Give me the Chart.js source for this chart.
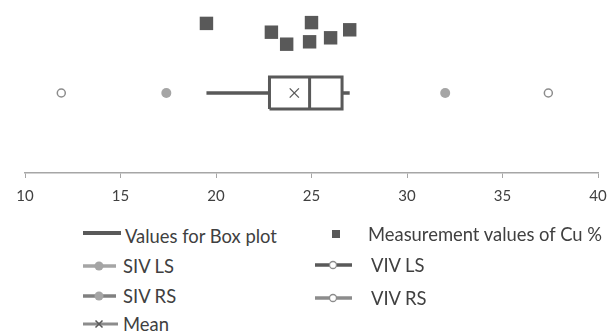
<!DOCTYPE html>
<html>
<head>
<meta charset="utf-8">
<script src="https://cdn.jsdelivr.net/npm/chart.js@4/dist/chart.umd.min.js"></script>
<style>
  html, body { margin: 0; padding: 0; background: #ffffff; }
  #wrap { position: relative; width: 611px; height: 334px; overflow: hidden; font-family: Lato, "Open Sans", sans-serif; color: #404040; }
  #plot { position: absolute; left: 0; top: 0; width: 611px; height: 224px; }
  .lg { position: absolute; font-size: 18.4px; line-height: 22px; white-space: nowrap; }
  .sym { position: absolute; }
</style>
</head>
<body>
<div id="wrap">
  <div id="plot"><canvas id="chart"></canvas></div>

  <!-- legend, left column -->
  <svg class="sym" style="left:82px;top:228px" width="40" height="12"><line x1="1" y1="5" x2="39" y2="5" stroke="#595959" stroke-width="4"/></svg>
  <div class="lg" style="left:125px;top:225px">Values for Box plot</div>

  <svg class="sym" style="left:82px;top:259px" width="36" height="14"><line x1="1" y1="7" x2="34" y2="7" stroke="#a5a5a5" stroke-width="3.5"/><circle cx="17" cy="7" r="4.5" fill="#a5a5a5"/></svg>
  <div class="lg" style="left:123px;top:255px">SIV LS</div>

  <svg class="sym" style="left:82px;top:289px" width="36" height="14"><line x1="1" y1="7" x2="34" y2="7" stroke="#808080" stroke-width="3.5"/><circle cx="17" cy="7" r="4.5" fill="#a5a5a5"/></svg>
  <div class="lg" style="left:123px;top:285px">SIV RS</div>

  <svg class="sym" style="left:82px;top:317px" width="38" height="14"><line x1="1" y1="7" x2="36" y2="7" stroke="#8c8c8c" stroke-width="3"/><path d="M13.5 3.5 L20.5 10.5 M20.5 3.5 L13.5 10.5" stroke="#595959" stroke-width="1.5"/></svg>
  <div class="lg" style="left:123px;top:313px">Mean</div>

  <!-- legend, right column -->
  <svg class="sym" style="left:331px;top:229px" width="10" height="10"><rect x="1" y="1" width="8" height="8" fill="#595959"/></svg>
  <div class="lg" style="left:368px;top:223px">Measurement values of Cu %</div>

  <svg class="sym" style="left:314px;top:258px" width="40" height="14"><line x1="1" y1="7" x2="38" y2="7" stroke="#595959" stroke-width="3.5"/><circle cx="19" cy="7" r="3.5" fill="#ffffff" stroke="#8c8c8c" stroke-width="1.3"/></svg>
  <div class="lg" style="left:371px;top:254px">VIV LS</div>

  <svg class="sym" style="left:314px;top:291px" width="40" height="14"><line x1="1" y1="7" x2="38" y2="7" stroke="#8c8c8c" stroke-width="3.5"/><circle cx="19" cy="7" r="3.5" fill="#ffffff" stroke="#8c8c8c" stroke-width="1.3"/></svg>
  <div class="lg" style="left:371px;top:287px">VIV RS</div>
</div>

<script>
// Cu % measurements and the vertical offsets used to spread them above the box
const measurements = [19.5, 22.9, 23.7, 25.0, 24.9, 26.0, 27.0];
const measurementRows = [1.87, 1.76, 1.61, 1.88, 1.64, 1.69, 1.79];

// Box plot values: minimum, lower quartile, median, upper quartile, maximum
const boxValues = [19.5, 22.8, 24.9, 26.6, 27.0];
const meanValue = 24.1;

// Limits: SIV (lower, upper) and VIV (lower, upper)
const sivLimits = [17.4, 32.0];
const vivLimits = [11.9, 37.4];

const xTicks = [10, 15, 20, 25, 30, 35, 40];

// row on which the box and the limits sit, and the half height of the box
const boxRow = 1;
const boxHalf = 0.2;

const dark = '#595959';
const [wMin, q1, med, q3, wMax] = boxValues;

const lineSet = (pts, width) => ({
  type: 'scatter',
  data: pts.map(([x, y]) => ({ x, y })),
  showLine: true,
  borderColor: dark,
  borderWidth: width,
  borderJoinStyle: 'miter',
  borderCapStyle: 'butt',
  pointRadius: 0,
  fill: false,
  tension: 0
});

const datasets = [
  lineSet([[wMin, boxRow], [q1, boxRow]], 3.5),
  lineSet([[q3, boxRow], [wMax, boxRow]], 3.5),
  Object.assign(lineSet([
    [q1, boxRow - boxHalf], [q3, boxRow - boxHalf], [q3, boxRow + boxHalf],
    [q1, boxRow + boxHalf], [q1, boxRow - boxHalf]
  ], 3), { backgroundColor: '#ffffff', fill: true }),
  lineSet([[med, boxRow - boxHalf], [med, boxRow + boxHalf]], 3),
  {
    type: 'scatter',
    data: [{ x: meanValue, y: boxRow }],
    pointStyle: 'crossRot',
    pointRadius: 6.5,
    borderColor: dark,
    borderWidth: 1.3
  },
  {
    type: 'scatter',
    data: sivLimits.map(x => ({ x, y: boxRow })),
    pointStyle: 'circle',
    pointRadius: 5,
    backgroundColor: '#a5a5a5',
    borderColor: '#a5a5a5',
    borderWidth: 0
  },
  {
    type: 'scatter',
    data: vivLimits.map(x => ({ x, y: boxRow })),
    pointStyle: 'circle',
    pointRadius: 4,
    backgroundColor: '#ffffff',
    borderColor: '#8c8c8c',
    borderWidth: 1.5
  },
  {
    type: 'scatter',
    data: measurements.map((x, i) => ({ x, y: measurementRows[i] })),
    pointStyle: 'rect',
    pointRadius: 9.5,
    backgroundColor: dark,
    borderColor: dark,
    borderWidth: 0
  }
];

new Chart(document.getElementById('chart'), {
  type: 'scatter',
  data: { datasets },
  options: {
    responsive: true,
    maintainAspectRatio: false,
    animation: false,
    events: [],
    layout: { padding: { top: 13, left: 25, right: 13, bottom: 10 } },
    plugins: { legend: { display: false }, tooltip: { enabled: false } },
    scales: {
      x: {
        type: 'linear',
        min: xTicks[0],
        max: xTicks[xTicks.length - 1],
        afterBuildTicks: axis => { axis.ticks = xTicks.map(value => ({ value })); },
        // end labels may sit in the layout padding
        afterFit: axis => { axis.paddingLeft = 0; axis.paddingRight = 0; },
        grid: { display: true, drawOnChartArea: false, drawTicks: true, tickLength: 5, color: '#a6a6a6', lineWidth: 1 },
        border: { display: true, color: '#a6a6a6', width: 1.5 },
        ticks: { padding: 9, color: '#404040', font: { family: 'Lato', size: 15 } }
      },
      y: {
        type: 'linear',
        min: 0,
        max: 2,
        display: false
      }
    }
  }
});
</script>
</body>
</html>
